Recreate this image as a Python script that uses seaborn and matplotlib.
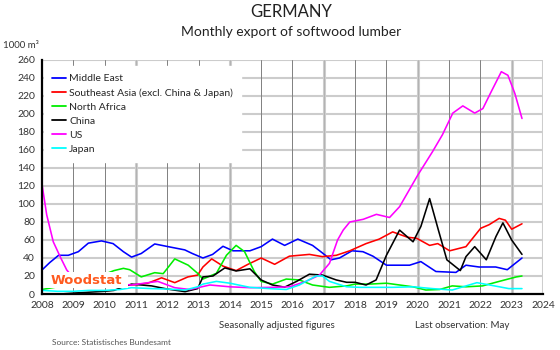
import numpy as np
import pandas as pd
import matplotlib.pyplot as plt
import matplotlib.patches as mpatches
import seaborn as sns

# data (year, 1000 m3)
me_t = [2008.0, 2008.25, 2008.53, 2008.84, 2009.16, 2009.48, 2009.9, 2010.27, 2010.6, 2010.86,
        2011.17, 2011.6, 2012.03, 2012.56, 2012.8, 2013.14, 2013.45, 2013.78, 2014.1, 2014.64,
        2015.0, 2015.36, 2015.75, 2016.17, 2016.64, 2016.96, 2017.23, 2017.5, 2017.9, 2018.25,
        2018.57, 2019.0, 2019.74, 2020.1, 2020.58, 2021.22, 2021.54, 2021.96, 2022.49, 2022.86, 2023.33]
me_v = [26.7, 35, 43, 43, 47, 56.5, 59, 56, 47, 41,
        45, 55.6, 52.6, 49, 45, 40, 44, 53, 48, 48,
        52.6, 61, 54, 61, 54, 45.5, 38, 40, 48, 47,
        42, 32, 32, 36, 25, 24, 32, 30, 30, 27, 40]

sea_t = [2008.0, 2008.5, 2009.0, 2009.5, 2010.0, 2010.5, 2010.86, 2011.38, 2011.82, 2012.24,
         2012.66, 2012.97, 2013.14, 2013.42, 2013.78, 2014.2, 2014.58, 2015.0, 2015.43, 2015.9,
         2016.54, 2016.96, 2017.4, 2017.83, 2018.35, 2018.77, 2019.2, 2019.68, 2019.96, 2020.38,
         2020.64, 2021.02, 2021.54, 2022.01, 2022.28, 2022.6, 2022.8, 2023.0, 2023.33]
sea_v = [8, 8, 9, 9, 10, 10, 10, 12, 18, 12.6,
         19, 21, 30, 39, 31, 26, 33, 40, 33, 42,
         44, 41.5, 43, 48, 56, 61, 69, 63, 62, 54,
         56, 48, 52.6, 73, 77, 84, 82, 72, 78]

na_t = [2008.0, 2008.5, 2009.0, 2009.5, 2010.0, 2010.3, 2010.6, 2010.8, 2011.17, 2011.6,
        2011.87, 2012.24, 2012.67, 2012.97, 2013.14, 2013.57, 2013.89, 2014.2, 2014.47, 2014.78,
        2015.0, 2015.36, 2015.8, 2016.22, 2016.64, 2017.18, 2017.73, 2018.0, 2018.47, 2019.0,
        2019.42, 2019.85, 2020.26, 2020.7, 2021.1, 2021.54, 2022.07, 2022.6, 2023.15, 2023.33]
na_v = [5, 8, 12, 18, 22, 26, 28.5, 27, 19, 23.7,
        22.6, 39, 32, 23, 16.6, 23, 43, 54, 47, 25,
        14, 11, 16.6, 15.6, 10, 7.4, 9, 11, 11, 12,
        10, 8, 4.4, 5, 9, 8, 9, 14, 19, 20]

cn_t = [2008.6, 2009.0, 2009.5, 2010.0, 2010.3, 2010.6, 2010.86, 2011.5, 2012.0, 2012.57,
        2012.97, 2013.14, 2013.46, 2013.84, 2014.2, 2014.64, 2015.0, 2015.36, 2015.75, 2016.13,
        2016.54, 2016.96, 2017.4, 2017.73, 2018.0, 2018.35, 2018.67, 2019.0, 2019.42, 2019.85,
        2020.1, 2020.38, 2020.66, 2020.93, 2021.36, 2021.54, 2021.82, 2022.19, 2022.5, 2022.72,
        2023.0, 2023.33]
cn_v = [0, 1, 2, 3, 4, 8, 11, 9, 5.5, 2.6,
        6, 19, 20, 29, 25.6, 28, 15.6, 10, 7.6, 14,
        22, 21, 15.6, 13, 13, 10, 15.6, 43, 71, 58,
        75, 106, 71, 38, 26, 41.5, 52.6, 38, 64, 79,
        60, 44]

us_t = [2008.0, 2008.15, 2008.36, 2008.6, 2008.79, 2009.0, 2009.5, 2010.0, 2010.5, 2010.86,
        2011.27, 2011.7, 2012.24, 2012.72, 2013.36, 2014.0, 2014.64, 2015.36, 2015.9, 2016.43,
        2016.86, 2017.18, 2017.44, 2017.62, 2017.83, 2018.26, 2018.68, 2019.1, 2019.42, 2020.0,
        2020.47, 2020.79, 2021.12, 2021.44, 2021.82, 2022.08, 2022.35, 2022.67, 2022.88, 2023.1,
        2023.33]
us_v = [122, 88, 58, 40, 26.7, 18, 14, 12, 11, 10,
        12, 14, 7, 5, 10, 8, 7, 7.4, 8, 14,
        21, 34, 60, 71, 80, 83, 88.5, 85, 97, 132,
        158, 177, 201, 209, 201, 206, 225, 247, 243, 223,
        195]

jp_t = [2008.0, 2008.5, 2009.0, 2009.5, 2010.0, 2010.5, 2010.86, 2011.5, 2012.0, 2012.57,
        2012.97, 2013.14, 2013.57, 2014.0, 2014.64, 2015.26, 2015.8, 2016.22, 2016.75, 2016.96,
        2017.18, 2017.73, 2018.15, 2018.47, 2019.2, 2019.85, 2020.47, 2021.1, 2021.89, 2022.3,
        2022.91, 2023.33]
jp_v = [4, 3, 3, 4, 4, 5, 7, 6, 5.5, 4.4,
        8, 11, 14, 12, 7.4, 6, 5, 10, 20, 20,
        14, 8, 7.4, 7.4, 7.4, 8, 6, 4.4, 12.6, 10,
        6, 6]

names = ["Middle East", "Southeast Asia (excl. China & Japan)", "North Africa", "China", "US", "Japan"]
colors = ["#0000FF", "#FF0000", "#00EE00", "#000000", "#FF00FF", "#00FFFF"]

frames = []
for name, t, v in zip(names, [me_t, sea_t, na_t, cn_t, us_t, jp_t], [me_v, sea_v, na_v, cn_v, us_v, jp_v]):
    frames.append(pd.DataFrame({"year": t, "value": v, "region": name}))
df = pd.concat(frames, ignore_index=True)

sns.set_style("white")
plt.rcParams["font.family"] = ["Lato", "DejaVu Sans"]

fig = plt.figure(figsize=(5.6, 3.5), dpi=100)
ax = fig.add_axes([0.075, 0.16, 0.8946, 0.6686])

# grid
for y in range(20, 261, 20):
    ax.axhline(y, color="#cccccc", lw=1.5, zorder=0)
for yr in range(2009, 2025):
    if (yr - 2008) % 3 == 0 or yr == 2024:
        ax.axvline(yr, color="#cdcdcd", lw=2.2, zorder=0)
        ax.axvline(yr, color="#a0a0a0", lw=0.4, zorder=0)
    else:
        ax.axvline(yr, color="#808080", lw=0.7, zorder=0)

sns.lineplot(data=df, x="year", y="value", hue="region", hue_order=names,
             palette=colors, estimator=None, sort=True, lw=1.15, ax=ax, zorder=3)

ax.set_xlim(2008, 2024)
ax.set_ylim(0, 260)
ax.set_xticks(range(2008, 2025))
ax.set_yticks(range(0, 261, 20))
ax.tick_params(axis="both", length=3, width=0.8, color="#555555", labelsize=7.5,
               labelcolor="#333333", pad=2, direction="out")
ax.set_xlabel("")
ax.set_ylabel("")
for s in ["top", "right"]:
    ax.spines[s].set_visible(False)
for s in ["left", "bottom"]:
    ax.spines[s].set_color("black")
    ax.spines[s].set_linewidth(1.6)
    ax.spines[s].set_zorder(7)

leg = ax.legend(loc="upper left", bbox_to_anchor=(0.004, 0.975), frameon=True, fontsize=7.5,
                handlelength=1.3, handletextpad=0.3, labelspacing=0.45, borderpad=0.8,
                borderaxespad=0, fancybox=False)
leg.get_frame().set_facecolor("white")
leg.get_frame().set_edgecolor("white")
leg.get_frame().set_alpha(1)
leg.set_zorder(5)
for h in leg.get_lines():
    h.set_linewidth(1.3)

# logo box and text
ax.add_patch(mpatches.Rectangle((2008.03, 6.5), 2.72, 18, fc="white", ec="none", zorder=6))
ax.text(2009.43, 15.3, "Woodstat", color="#FF5A1F", fontsize=9.5, fontweight="bold",
        family="DejaVu Sans", va="center", ha="center", zorder=6.5)

fig.text(0.52, 0.965, "GERMANY", ha="center", va="center", fontsize=12, color="#222222")
fig.text(0.52, 0.91, "Monthly export of softwood lumber", ha="center", va="center", fontsize=10, color="#222222")
fig.text(0.005, 0.87, "1000 m³", ha="left", va="center", fontsize=7, color="#333333")
fig.text(0.495, 0.07, "Seasonally adjusted figures", ha="center", va="center", fontsize=7, color="#333333")
fig.text(0.91, 0.07, "Last observation: May", ha="right", va="center", fontsize=7, color="#333333")
fig.text(0.093, 0.022, "Source: Statistisches Bundesamt", ha="left", va="center", fontsize=6, color="#555555")

fig.savefig("out.png", dpi=100, facecolor="white")
